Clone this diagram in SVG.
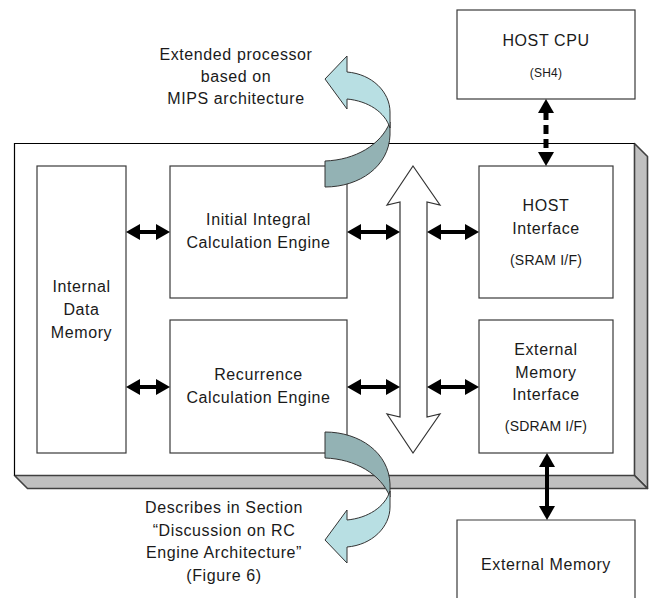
<svg xmlns="http://www.w3.org/2000/svg" width="650" height="608" viewBox="0 0 650 608">
  <defs>
    <style>
      .box { fill: #fff; stroke: #3a3a3a; stroke-width: 1.2; }
      .lbl { font-family: "Liberation Sans", Arial, sans-serif; font-size: 16px; letter-spacing: 0.6px; fill: #1a1a1a; text-anchor: middle; }
      .sub { font-size: 14px; letter-spacing: 0.2px; }
      .small { font-size: 12px; letter-spacing: 0.2px; }
      .link { stroke: #000; stroke-width: 4; fill: none; marker-start: url(#head); marker-end: url(#head); }
      .dashlink { stroke: #000; stroke-width: 5; fill: none; stroke-dasharray: 9 5; marker-start: url(#head); marker-end: url(#head); }
      .bus { fill: #fff; stroke: #333; stroke-width: 1.2; stroke-linejoin: miter; }
      .front { fill: #b8dfe3; stroke: #333; stroke-width: 1; stroke-linejoin: round; }
      .back { fill: #93b2b4; stroke: #333; stroke-width: 1; stroke-linejoin: round; }
    </style>
    <marker id="head" viewBox="0 0 14 16" refX="2" refY="8" markerWidth="14" markerHeight="16" markerUnits="userSpaceOnUse" orient="auto-start-reverse">
      <path d="M0,0 L14,8 L0,16 Z" fill="#000"/>
    </marker>
    <!-- twisted curved callout arrow (front face + back face) -->
    <g id="curl">
      <path class="back" d="M325,161 C355,160 381,145 390,122 L390,135 C389,166 360,187 325,187 Z"/>
      <path class="front" d="M325,79 L347,56 L347,72 C372,74 390,92 390,112 L390,128 C385,112 368,101 347,99 L347,109 Z"/>
    </g>
  </defs>

  <rect width="650" height="608" fill="#fff"/>

  <!-- processor board with extruded edge -->
  <g id="board">
    <path d="M634.5,143.5 L647.5,156.5 L647.5,488.5 L634.5,475.5 Z" fill="#c0c0c0" stroke="#404040" stroke-width="1.6" stroke-linejoin="round"/>
    <path d="M14.5,475.5 L27.5,488.5 L647.5,488.5 L634.5,475.5 Z" fill="#c0c0c0" stroke="#404040" stroke-width="1.6" stroke-linejoin="round"/>
    <path d="M14.5,475.5 V143.5 H634.5" fill="none" stroke="#000" stroke-width="1.2"/>
  </g>

  <g id="host-cpu">
    <rect class="box" x="457" y="10" width="178" height="89"/>
    <text class="lbl" x="546" y="46">HOST CPU</text>
    <text class="lbl small" x="546" y="77">(SH4)</text>
  </g>

  <g id="internal-data-memory">
    <rect class="box" x="37" y="166" width="89" height="287"/>
    <text class="lbl" x="81.5" y="292">Internal</text>
    <text class="lbl" x="81.5" y="315">Data</text>
    <text class="lbl" x="81.5" y="338">Memory</text>
  </g>

  <g id="initial-integral-engine">
    <rect class="box" x="170" y="166" width="177" height="132"/>
    <text class="lbl" x="258.5" y="225">Initial Integral</text>
    <text class="lbl" x="258.5" y="248">Calculation Engine</text>
  </g>

  <g id="recurrence-engine">
    <rect class="box" x="170" y="320" width="177" height="133"/>
    <text class="lbl" x="258.5" y="380">Recurrence</text>
    <text class="lbl" x="258.5" y="403">Calculation Engine</text>
  </g>

  <g id="host-interface">
    <rect class="box" x="479" y="166" width="134" height="132"/>
    <text class="lbl" x="546" y="211">HOST</text>
    <text class="lbl" x="546" y="234">Interface</text>
    <text class="lbl sub" x="546" y="265">(SRAM I/F)</text>
  </g>

  <g id="external-memory-interface">
    <rect class="box" x="479" y="320" width="134" height="133"/>
    <text class="lbl" x="546" y="355">External</text>
    <text class="lbl" x="546" y="378">Memory</text>
    <text class="lbl" x="546" y="400">Interface</text>
    <text class="lbl sub" x="546" y="431">(SDRAM I/F)</text>
  </g>

  <g id="external-memory">
    <path d="M457,598 V520 H635 V598" fill="#fff" stroke="#3a3a3a" stroke-width="1.2"/>
    <text class="lbl" x="546" y="570">External Memory</text>
  </g>

  <g id="internal-bus">
    <path class="bus" d="M413,166 L440,205 L427,202 L427,417 L440,414 L413,453 L387,414 L400,417 L400,202 L387,205 Z"/>
  </g>

  <g id="connectors">
    <line class="link" x1="138" y1="232" x2="158" y2="232"/>
    <line class="link" x1="359" y1="232" x2="388" y2="232"/>
    <line class="link" x1="439" y1="232" x2="467" y2="232"/>
    <line class="link" x1="138" y1="387" x2="158" y2="387"/>
    <line class="link" x1="359" y1="387" x2="388" y2="387"/>
    <line class="link" x1="439" y1="387" x2="467" y2="387"/>
    <line class="link" x1="547" y1="465" x2="547" y2="508"/>
    <line class="dashlink" x1="546" y1="111" x2="546" y2="154"/>
  </g>

  <g id="note-mips">
    <use href="#curl"/>
    <text class="lbl" x="236" y="60">Extended processor</text>
    <text class="lbl" x="236" y="82">based on</text>
    <text class="lbl" x="236" y="104">MIPS architecture</text>
  </g>

  <g id="note-rc-engine">
    <use href="#curl" transform="matrix(1 0 0 -1 0 619)"/>
    <text class="lbl" x="224" y="513">Describes in Section</text>
    <text class="lbl" x="224" y="536">“Discussion on RC</text>
    <text class="lbl" x="224" y="558">Engine Architecture”</text>
    <text class="lbl" x="224" y="581">(Figure 6)</text>
  </g>
</svg>
